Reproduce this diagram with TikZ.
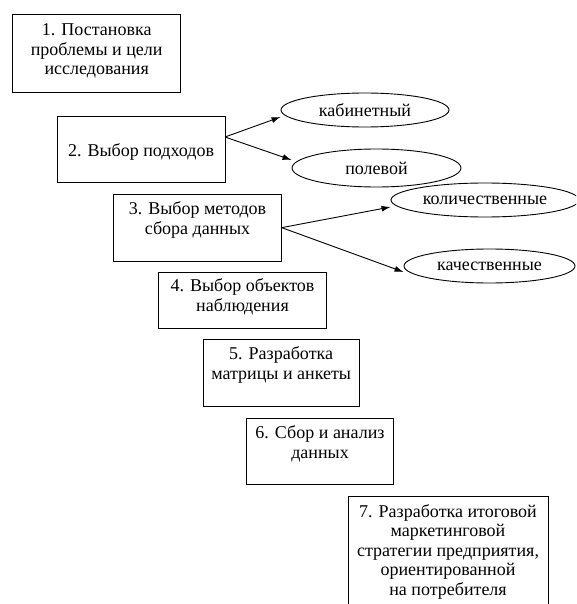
\documentclass[tikz,border=0pt]{standalone}
\usepackage{fontspec}
\setmainfont{Liberation Serif}
\usetikzlibrary{shapes.geometric,arrows.meta}

\begin{document}
\begin{tikzpicture}[x=1pt, y=-1pt,
        stepbox/.style={draw, rectangle, line width=0.9pt, align=center, inner xsep=2pt, inner ysep=0pt, outer sep=0pt, anchor=north west, font=\fontsize{18}{19.5}\selectfont},
        variant/.style={draw, ellipse, line width=0.9pt, inner sep=0pt, font=\fontsize{18}{19.5}\selectfont},
        link/.style={-{Latex[length=9pt, width=6pt]}, line width=0.9pt}]
        % Page frame
        \path[use as bounding box] (0,0) rectangle (576,604);
        \fill[white] (0,0) rectangle (576,604);
        \clip (0,0) rectangle (576,604);

        % Stages of the study, stepping down to the right
        \node[stepbox, minimum width=168pt, text height=61pt, text depth=17.7pt] (stage1) at (12.7,14) {1. Постановка\\проблемы и цели\\исследования};
        \node[stepbox, minimum width=168pt, text height=40.7pt, text depth=25.3pt] (stage2) at (57,116) {2. Выбор подходов};
        \node[stepbox, minimum width=168.4pt, text height=40pt, text depth=26.7pt] (stage3) at (113.3,194.3) {3. Выбор методов\\сбора данных};
        \node[stepbox, minimum width=168.4pt, text height=38.7pt, text depth=17.3pt] (stage4) at (158.3,272.3) {4. Выбор объектов\\наблюдения};
        \node[stepbox, minimum width=155.7pt, text height=40pt, text depth=26.7pt] (stage5) at (203.3,339.3) {5. Разработка\\матрицы и анкеты};
        \node[stepbox, minimum width=146.6pt, text height=40pt, text depth=25.7pt] (stage6) at (246.7,418.3) {6. Сбор и анализ\\данных};
        \node[stepbox, minimum width=200pt, text height=99pt, text depth=30pt] (stage7) at (348,496) {7. Разработка итоговой\\маркетинговой\\стратегии предприятия,\\ориентированной\\на потребителя};

        % Approaches
        \node[variant, minimum width=168pt, minimum height=34pt] (desk) at (365,110) {кабинетный};
        \node[variant, minimum width=169pt, minimum height=38pt] (field) at (376.5,168) {полевой};

        % Data collection methods
        \node[variant, minimum width=188pt, minimum height=34pt] (quant) at (485,200) {количественные};
        \node[variant, minimum width=171pt, minimum height=34pt] (qual) at (489.5,266) {качественные};

        % Arrows
        \draw[link] ([yshift=12pt]stage2.east) -- ([yshift=-7pt]desk.west);
        \draw[link] ([yshift=12pt]stage2.east) -- ([yshift=8pt]field.west);
        \draw[link] (stage3.east) -- ([yshift=-7pt]quant.west);
        \draw[link] (stage3.east) -- ([yshift=-6pt]qual.west);
    \end{tikzpicture}
\end{document}
